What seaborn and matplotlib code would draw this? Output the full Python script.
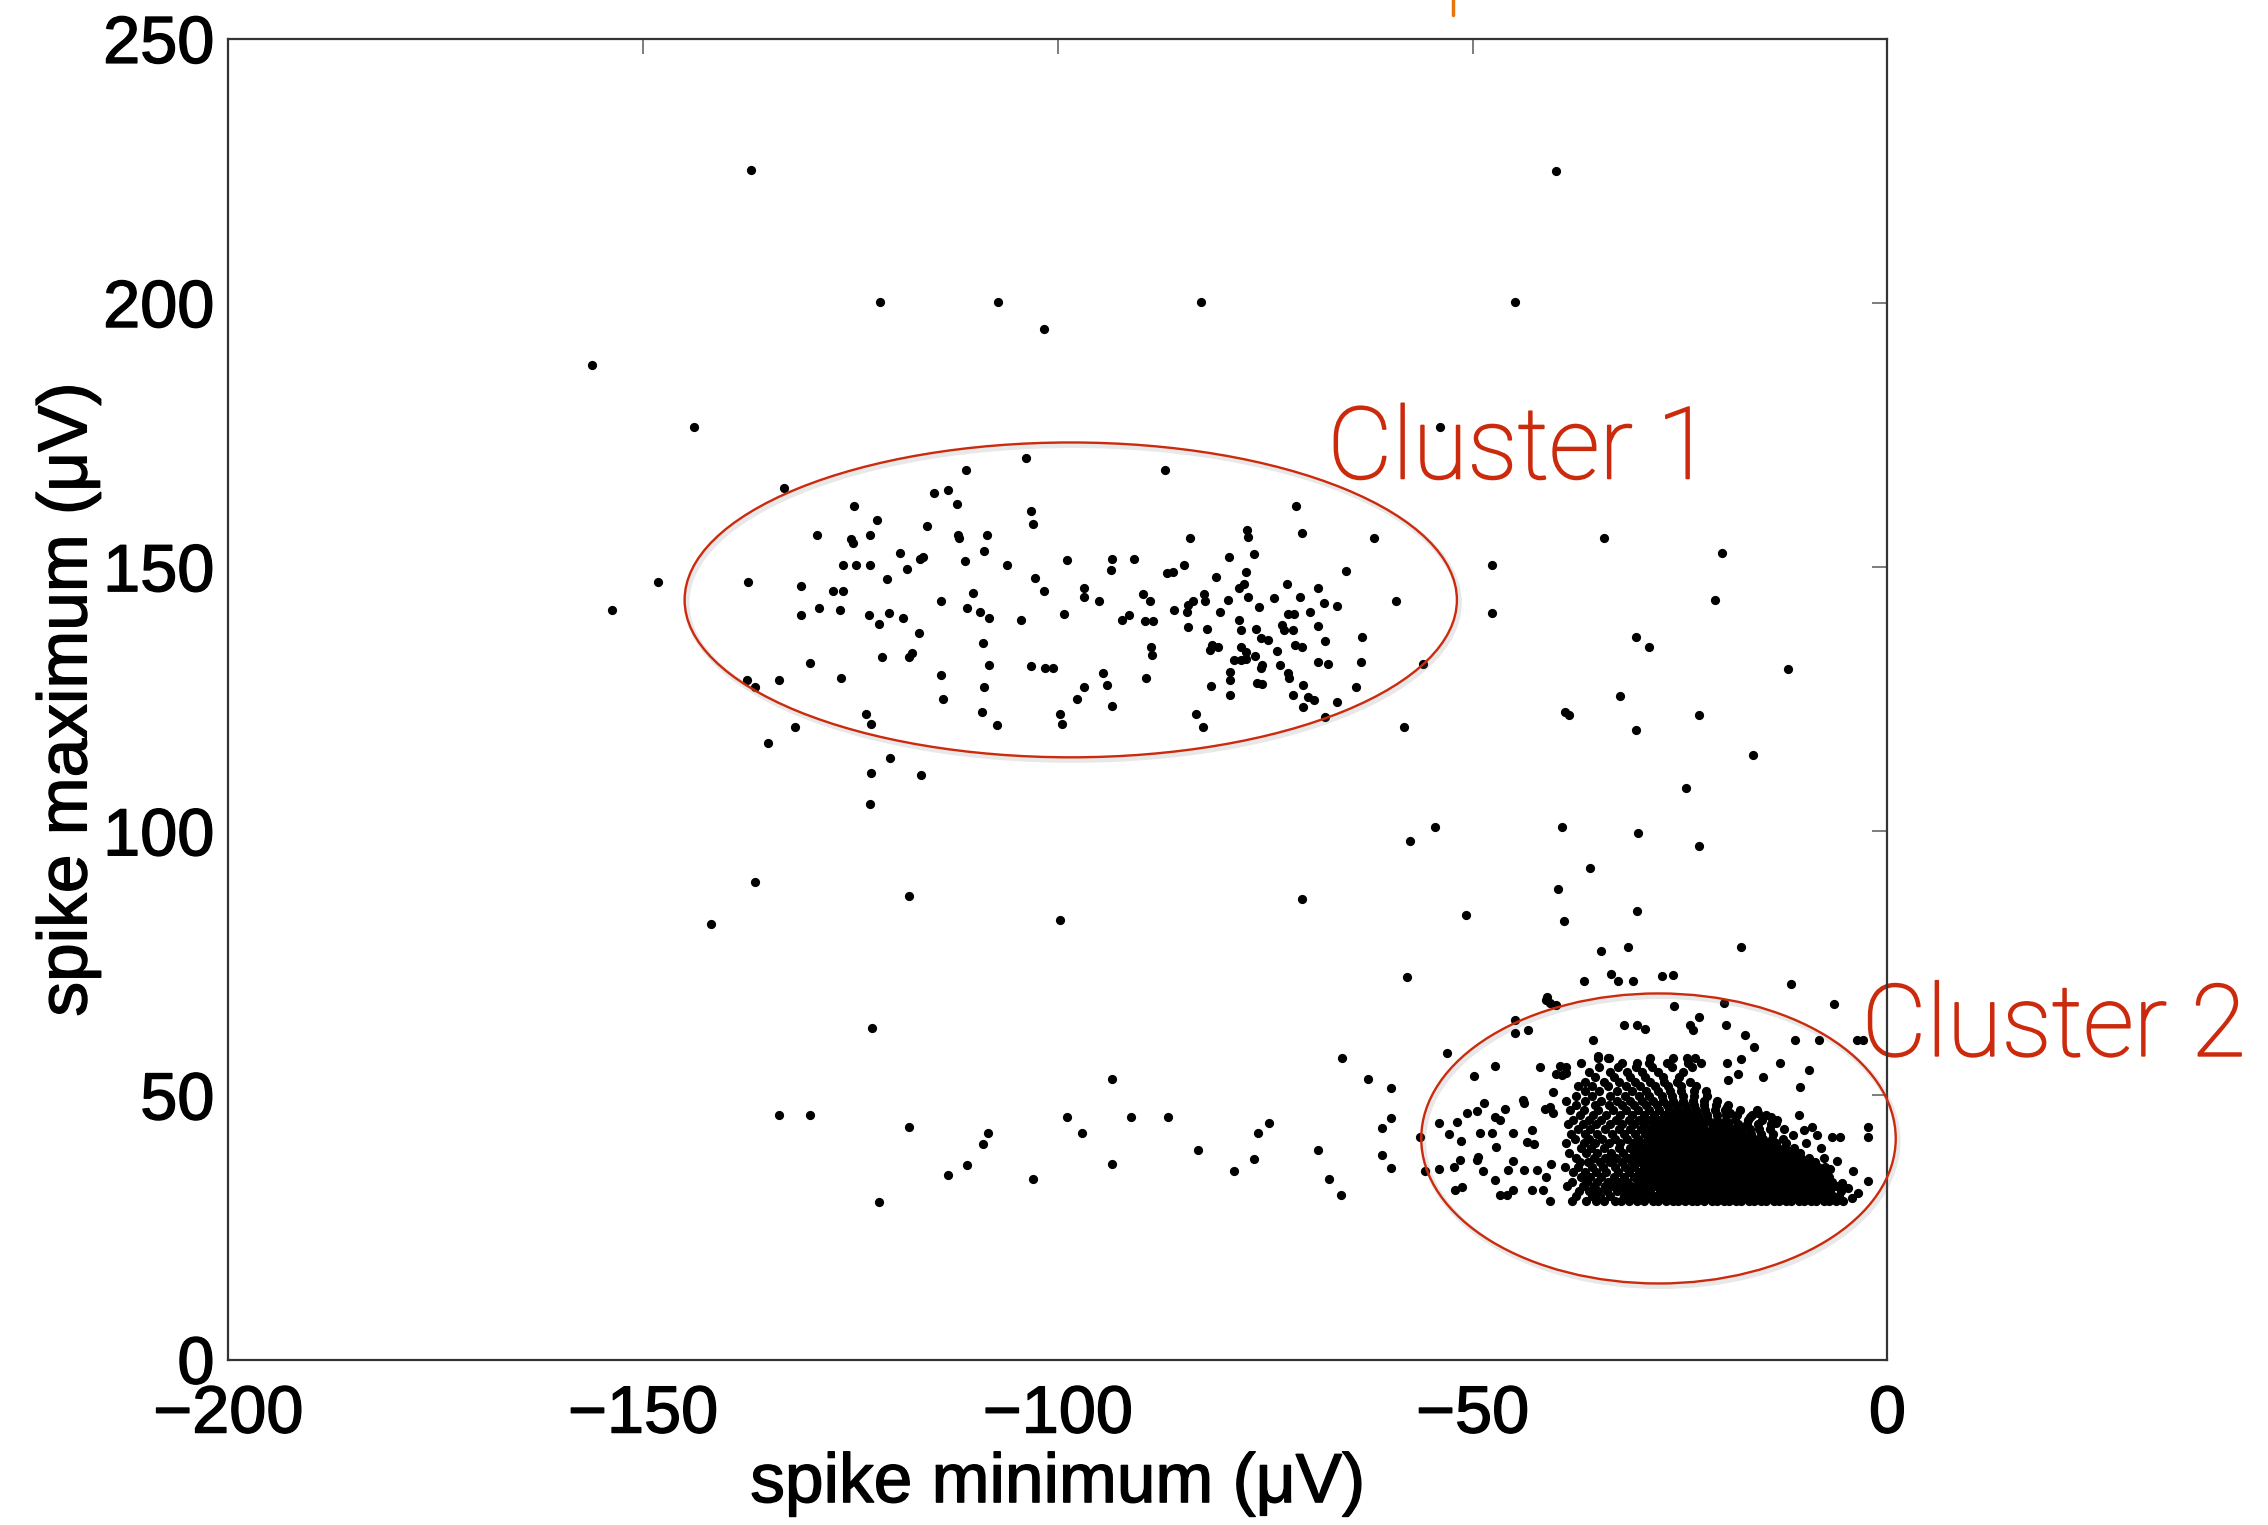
import matplotlib
matplotlib.use("Agg")
import matplotlib.pyplot as plt
import matplotlib.patheffects as pe
from matplotlib.patches import Ellipse
from matplotlib.lines import Line2D
import pandas as pd
import seaborn as sns

# ---------------- data (spike minimum, spike maximum) in microvolts ----------------
outlier_pts = [(-137.0, 225.1), (-40.0, 225.0), (-156.2, 188.3), (-121.5, 200.2), (-107.2, 200.2),
               (-101.7, 195.0), (-82.7, 200.2), (-44.9, 200.2), (-53.9, 176.5), (-153.7, 141.9),
               (-122.6, 105.2), (-136.5, 90.4), (-118.0, 87.7), (-141.8, 82.4), (-99.7, 83.2),
               (-70.6, 87.1)]

cluster1_pts = [(-143.9, 176.6), (-103.8, 170.7), (-111.1, 168.4), (-87.1, 168.4), (-133.0, 164.9),
                (-114.9, 164.0), (-113.3, 164.6), (-112.2, 161.9), (-124.6, 161.5), (-103.3, 160.7),
                (-71.3, 161.6), (-121.8, 159.0), (-103.0, 158.2), (-115.8, 157.8), (-129.0, 156.0),
                (-124.9, 155.3), (-124.7, 154.5), (-122.6, 156.1), (-112.1, 156.1), (-111.9, 155.5),
                (-108.5, 156.1), (-70.6, 156.4), (-61.9, 155.6), (-84.1, 155.6), (-77.2, 157.0),
                (-77.1, 155.8), (-108.9, 153.1), (-119.0, 152.6), (-116.3, 152.0), (-116.6, 151.6),
                (-76.4, 152.5), (-79.4, 151.9), (-111.2, 151.2), (-106.1, 150.5), (-98.9, 151.4),
                (-93.5, 151.5), (-93.6, 149.5), (-90.8, 151.6), (-84.8, 150.5), (-86.1, 149.1),
                (-86.8, 148.8), (-125.9, 150.4), (-124.4, 150.5), (-122.6, 150.4), (-118.2, 149.6),
                (-65.3, 149.3), (-77.3, 149.0), (-81.0, 148.2), (-120.6, 147.7), (-102.8, 148.0),
                (-148.2, 147.1), (-137.3, 147.1), (-131.0, 146.4), (-72.4, 146.9), (-77.6, 146.9),
                (-78.2, 146.0), (-68.6, 146.0), (-127.1, 145.4), (-125.9, 145.4), (-110.2, 145.2),
                (-101.7, 145.4), (-96.9, 146.0), (-96.9, 144.4), (-89.7, 145.0), (-82.4, 145.0),
                (-82.3, 143.5), (-83.7, 143.5), (-84.3, 142.8), (-79.5, 143.8), (-77.1, 144.4),
                (-73.9, 144.1), (-70.8, 144.4), (-67.9, 143.2), (-66.4, 142.6), (-95.0, 143.5),
                (-88.9, 143.5), (-114.1, 143.5), (-59.2, 143.5), (-128.8, 142.2), (-126.3, 141.9),
                (-131.0, 140.9), (-111.0, 142.2), (-109.4, 141.6), (-108.3, 140.3), (-122.8, 140.9),
                (-120.4, 141.4), (-118.7, 140.3), (-121.6, 139.2), (-104.5, 140.0), (-99.3, 141.2),
                (-92.3, 140.0), (-91.4, 140.9), (-89.5, 139.9), (-88.5, 139.9), (-86.0, 141.9),
                (-84.4, 141.6), (-80.4, 141.6), (-75.8, 142.4), (-72.3, 141.2), (-71.5, 141.2),
                (-69.6, 141.6), (-78.2, 140.0), (-77.9, 138.1), (-84.3, 138.7), (-82.0, 138.2),
                (-76.1, 138.2), (-73.0, 139.0), (-72.8, 138.1), (-71.6, 138.1), (-68.6, 138.9),
                (-116.8, 137.6), (-75.5, 136.5), (-74.7, 136.2), (-73.6, 134.2), (-67.8, 136.1),
                (-63.4, 136.7), (-109.0, 135.6), (-81.4, 135.3), (-80.7, 134.9), (-81.7, 134.3),
                (-77.9, 134.9), (-77.3, 134.0), (-71.4, 135.3), (-70.6, 134.9), (-88.8, 134.9),
                (-88.6, 133.4), (-117.6, 133.7), (-117.9, 132.9), (-121.2, 132.9), (-129.9, 131.8),
                (-108.3, 131.5), (-103.2, 131.2), (-101.5, 130.9), (-100.6, 130.9), (-78.8, 132.4),
                (-77.9, 132.5), (-77.3, 132.7), (-76.3, 133.1), (-75.4, 131.5), (-75.5, 130.9),
                (-73.2, 131.5), (-68.6, 132.1), (-67.4, 131.6), (-63.5, 132.1), (-56.0, 131.6),
                (-114.1, 129.6), (-94.6, 130.0), (-89.4, 129.1), (-79.3, 130.2), (-79.2, 128.6),
                (-72.3, 129.9), (-72.2, 129.0), (-126.1, 129.0), (-133.6, 128.6), (-137.5, 128.6),
                (-136.5, 127.4), (-81.5, 127.5), (-76.0, 128.0), (-75.4, 127.9), (-70.4, 127.7),
                (-64.1, 127.4), (-108.9, 127.4), (-96.8, 127.3), (-94.1, 127.7), (-79.3, 125.8),
                (-71.7, 125.8), (-69.8, 125.5), (-69.1, 124.9), (-113.9, 125.0), (-97.7, 125.0),
                (-66.4, 124.5), (-70.4, 123.6), (-93.5, 123.7), (-109.1, 122.6), (-123.1, 122.2),
                (-122.5, 120.4), (-99.8, 122.2), (-99.5, 120.3), (-107.3, 120.1), (-83.4, 122.2),
                (-82.5, 119.7), (-67.8, 121.7), (-131.7, 119.7), (-58.3, 119.7), (-135.0, 116.8),
                (-120.3, 113.8), (-122.5, 111.1), (-116.5, 110.7)]

middle_pts = [(-47.7, 150.5), (-47.7, 141.3), (-34.2, 155.6), (-19.9, 152.6), (-20.8, 143.8),
              (-30.3, 136.7), (-28.8, 134.8), (-12.0, 130.8), (-32.2, 125.7), (-38.9, 122.5),
              (-38.4, 122.0), (-22.7, 122.0), (-30.3, 119.2), (-16.2, 114.5), (-24.3, 108.1),
              (-54.5, 100.8), (-57.5, 98.2), (-39.2, 100.8), (-30.1, 99.6), (-22.7, 97.2),
              (-35.9, 93.1), (-39.7, 89.0), (-50.8, 84.2), (-39.0, 83.1), (-30.2, 84.9),
              (-34.5, 77.3), (-31.3, 78.0), (-17.6, 78.0), (-57.9, 72.5), (-36.6, 71.7),
              (-33.3, 73.0), (-32.5, 71.7), (-30.7, 71.7), (-27.2, 72.6), (-25.8, 72.8),
              (-11.6, 71.0), (-41.0, 68.7)]

low_left_pts = [(-122.4, 62.8), (-133.6, 46.3), (-129.9, 46.3), (-118.0, 44.0), (-121.6, 29.9),
                (-108.4, 42.9), (-109.0, 40.8), (-110.9, 36.8), (-113.2, 35.0), (-103.0, 34.1),
                (-98.9, 46.0), (-97.1, 42.9), (-93.5, 53.1), (-93.5, 37.0), (-91.2, 46.0),
                (-86.7, 46.0), (-83.1, 39.7), (-78.8, 35.7), (-76.4, 38.0), (-75.9, 42.9),
                (-74.5, 44.7), (-68.6, 39.7), (-67.3, 34.1), (-65.9, 31.1), (-65.8, 57.1),
                (-62.6, 53.1), (-59.9, 51.4), (-59.9, 45.8), (-60.9, 43.8), (-60.9, 38.8),
                (-59.9, 36.3)]

cluster2_sparse_pts = [(-41.1, 68.1), (-40.7, 67.4), (-39.9, 67.1), (-44.9, 64.3), (-44.9, 61.8),
                       (-43.3, 62.4), (-53.1, 58.1), (-47.3, 55.5), (-49.8, 53.7), (-41.9, 55.3),
                       (-39.5, 55.6), (-38.8, 54.2), (-39.9, 54.0), (-39.2, 53.8), (-43.9, 49.1),
                       (-43.8, 48.5), (-46.1, 47.4), (-48.6, 48.6), (-49.5, 47.1), (-50.7, 46.7),
                       (-47.3, 46.0), (-46.7, 45.4), (-54.1, 44.7), (-51.9, 45.0), (-56.4, 42.2),
                       (-52.8, 42.6), (-51.4, 41.4), (-49.1, 42.8), (-47.7, 42.8), (-47.2, 40.3),
                       (-45.1, 42.9), (-42.9, 43.5), (-43.5, 41.2), (-42.6, 40.8), (-55.8, 35.7),
                       (-54.1, 36.0), (-52.3, 36.5), (-51.5, 37.8), (-49.5, 37.8), (-49.3, 38.3),
                       (-48.7, 35.6), (-47.3, 34.0), (-45.7, 35.9), (-45.1, 37.5), (-43.8, 35.9),
                       (-52.1, 32.0), (-51.3, 32.7), (-46.7, 31.2), (-45.9, 31.2), (-45.1, 32.1),
                       (-42.9, 32.1), (-41.5, 32.1), (-40.7, 30.1), (-42.3, 35.9), (-41.1, 34.6),
                       (-40.6, 37.1), (-41.3, 47.4), (-40.7, 47.9), (-40.3, 46.6), (-40.3, 50.7),
                       (-25.7, 66.9), (-19.7, 67.4), (-31.7, 63.3), (-30.2, 63.3), (-29.2, 62.5),
                       (-22.7, 64.8), (-23.8, 63.4), (-23.4, 62.4), (-19.5, 63.4), (-17.2, 61.4),
                       (-16.1, 59.2), (-11.2, 60.5), (-8.3, 60.5), (-35.5, 60.4), (-34.9, 57.5),
                       (-33.6, 57.0), (-17.7, 56.8), (-19.3, 56.2), (-13.0, 56.2), (-9.5, 54.8),
                       (-18.0, 54.0), (-19.2, 53.0), (-15.0, 53.4), (-10.6, 51.5), (-10.7, 46.3),
                       (-2.3, 44.1), (-2.3, 42.1), (-6.7, 42.1), (-5.7, 42.1), (-6.1, 37.5),
                       (-4.1, 35.6), (-2.3, 33.8), (-4.3, 30.5), (-6.5, 67.3), (-3.7, 60.5),
                       (-2.9, 60.5), (-19.4, 47.9), (-19.0, 46.6), (-16.6, 46.0), (-15.6, 46.6),
                       (-14.0, 46.0), (-13.4, 44.7), (-11.4, 42.5), (-10.1, 43.5), (-9.1, 44.1),
                       (-8.5, 42.5), (-7.6, 38.2), (-6.9, 36.0), (-5.5, 33.5), (-4.8, 32.4),
                       (-3.6, 31.6), (-8.0, 40.0), (-9.8, 41.0)]

# dense core of cluster 2, read row by row (spike maximum level -> spike minimum values)
core_rows_y = [30.1, 31.0, 31.9, 32.8, 33.7, 34.6, 35.5, 36.4, 37.3, 38.2, 39.1, 40.0, 40.9,
               41.8, 42.7, 43.6, 44.5, 45.4, 46.3, 47.2, 48.1, 49.0, 49.9, 50.8, 51.7, 52.6,
               53.5, 54.4, 55.3, 56.2, 57.1]
core_rows_x = [
    [-38.0, -36.3, -35.1, -34.2, -32.9, -32.1, -31.2, -30.2, -29.3, -28.3, -27.6, -26.7, -25.8, -25.2, -24.4, -23.5, -22.9, -22.1, -21.2, -20.6, -19.7, -19.1, -18.2, -17.6, -16.7, -16.1, -15.2, -14.6, -13.7, -13.1, -12.2, -11.6, -10.7, -10.1, -9.2, -8.6, -7.7, -7.1, -6.2, -5.3],
    [-37.5, -35.6, -34.6, -33.5, -31.7, -30.8, -29.8, -28.9, -27.9, -27.1, -26.2, -25.4, -24.7, -23.9, -23.2, -22.4, -21.7, -20.9, -20.2, -19.4, -18.7, -17.9, -17.2, -16.4, -15.7, -14.9, -14.2, -13.4, -12.7, -11.9, -11.2, -10.4, -9.7, -8.9, -8.2, -7.4, -6.6, -5.8],
    [-37.2, -36.0, -34.9, -33.8, -32.6, -31.5, -30.4, -29.5, -28.6, -27.4, -26.5, -25.6, -24.9, -24.1, -23.3, -22.6, -21.9, -21.1, -20.4, -19.6, -18.9, -18.1, -17.4, -16.6, -15.9, -15.1, -14.4, -13.6, -12.9, -12.1, -11.4, -10.6, -9.9, -9.1, -8.4, -7.6, -6.9, -5.6],
    [-38.6, -36.7, -35.4, -34.1, -33.1, -31.9, -30.9, -29.9, -29.0, -28.1, -27.2, -26.3, -25.5, -24.6, -23.8, -23.1, -22.3, -21.6, -20.8, -20.1, -19.3, -18.6, -17.8, -17.1, -16.3, -15.6, -14.8, -14.1, -13.3, -12.6, -11.8, -11.1, -10.3, -9.6, -8.8, -8.1, -7.3, -6.2],
    [-38.0, -36.2, -35.0, -33.7, -32.4, -31.4, -30.1, -29.2, -28.4, -27.5, -26.7, -25.9, -25.1, -24.3, -23.6, -22.8, -22.1, -21.3, -20.6, -19.8, -19.1, -18.3, -17.6, -16.8, -16.1, -15.3, -14.6, -13.8, -13.1, -12.3, -11.6, -10.8, -10.1, -9.3, -8.6, -7.8, -6.7],
    [-37.0, -35.8, -34.5, -33.0, -31.8, -30.6, -29.6, -28.8, -27.9, -27.0, -26.1, -25.3, -24.5, -23.7, -22.9, -22.2, -21.4, -20.7, -19.9, -19.2, -18.4, -17.7, -16.9, -16.2, -15.4, -14.7, -13.9, -13.2, -12.4, -11.7, -10.9, -10.2, -9.4, -8.7, -7.9, -7.0],
    [-37.9, -36.4, -35.1, -33.9, -32.5, -31.1, -30.0, -29.0, -28.2, -27.3, -26.4, -25.6, -24.8, -24.0, -23.3, -22.5, -21.8, -21.0, -20.3, -19.5, -18.8, -18.0, -17.3, -16.5, -15.8, -15.0, -14.3, -13.5, -12.8, -12.0, -11.3, -10.5, -9.8, -9.0, -8.2, -7.3],
    [-38.9, -37.3, -35.6, -34.3, -32.8, -31.6, -30.5, -29.4, -28.5, -27.6, -26.8, -25.9, -25.1, -24.3, -23.5, -22.7, -22.0, -21.2, -20.5, -19.7, -19.0, -18.2, -17.5, -16.7, -16.0, -15.2, -14.5, -13.7, -13.0, -12.2, -11.5, -10.7, -10.0, -9.2, -8.4, -7.5],
    [-37.1, -36.1, -34.7, -33.4, -32.0, -30.8, -29.8, -28.9, -28.0, -27.1, -26.2, -25.4, -24.6, -23.8, -23.0, -22.3, -21.5, -20.8, -20.0, -19.3, -18.5, -17.8, -17.0, -16.3, -15.5, -14.8, -14.0, -13.3, -12.5, -11.8, -11.0, -10.3, -9.5, -8.7],
    [-37.6, -35.4, -34.0, -32.7, -31.3, -30.2, -29.1, -28.2, -27.3, -26.5, -25.7, -24.9, -24.1, -23.3, -22.5, -21.8, -21.0, -20.3, -19.5, -18.8, -18.0, -17.3, -16.5, -15.8, -15.0, -14.3, -13.5, -12.8, -12.0, -11.2, -10.4, -9.5],
    [-38.4, -36.3, -35.0, -33.3, -31.9, -30.6, -29.5, -28.6, -27.7, -26.9, -26.0, -25.2, -24.4, -23.6, -22.8, -22.1, -21.3, -20.6, -19.8, -19.1, -18.3, -17.6, -16.8, -16.1, -15.3, -14.6, -13.8, -13.1, -12.3, -11.5, -10.6],
    [-37.0, -35.7, -34.2, -32.4, -31.0, -29.9, -28.9, -27.9, -27.0, -26.1, -25.4, -24.6, -23.8, -23.0, -22.3, -21.5, -20.8, -20.0, -19.3, -18.5, -17.8, -17.0, -16.3, -15.5, -14.8, -14.0, -13.2, -12.3, -11.3],
    [-38.8, -36.6, -35.2, -33.6, -32.2, -30.7, -29.6, -28.4, -27.4, -26.5, -25.6, -24.8, -23.9, -23.1, -22.2, -21.4, -20.5, -19.7, -18.8, -18.0, -17.1, -16.2, -15.3, -14.4, -13.4, -12.2],
    [-37.7, -36.0, -34.4, -32.9, -31.4, -30.1, -28.9, -27.8, -26.8, -25.9, -25.1, -24.2, -23.4, -22.5, -21.7, -20.8, -19.9, -19.0, -18.1, -17.2, -16.1, -15.0, -13.9, -12.6],
    [-38.2, -36.4, -35.0, -33.2, -31.7, -30.4, -29.2, -28.1, -27.1, -26.2, -25.3, -24.5, -23.7, -22.8, -21.9, -21.0, -20.1, -19.2, -18.4, -17.4, -16.4, -15.2, -13.8],
    [-37.3, -35.8, -34.0, -32.3, -31.0, -29.7, -28.6, -27.5, -26.5, -25.6, -24.8, -23.9, -23.0, -22.1, -21.2, -20.3, -19.4, -18.5, -17.6, -16.6, -15.5, -14.2, -12.5],
    [-38.5, -36.7, -35.1, -33.5, -32.0, -30.6, -29.3, -28.0, -26.9, -25.9, -24.9, -24.0, -23.1, -22.2, -21.2, -20.2, -19.2, -18.0, -16.9, -15.6, -14.0],
    [-37.9, -36.0, -34.5, -32.7, -31.2, -29.9, -28.6, -27.5, -26.4, -25.4, -24.5, -23.5, -22.6, -21.6, -20.5, -19.5, -18.4, -16.8, -15.1, -13.3],
    [-37.1, -35.5, -33.9, -32.2, -30.8, -29.4, -28.1, -26.9, -25.8, -24.8, -23.8, -22.8, -21.8, -20.6, -19.5, -18.1, -16.3, -14.6],
    [-38.3, -36.6, -34.9, -33.1, -31.5, -30.1, -28.7, -27.5, -26.3, -25.2, -24.2, -23.1, -22.0, -20.8, -19.6, -17.8, -15.7],
    [-37.6, -35.3, -33.6, -32.0, -30.5, -29.1, -27.8, -26.6, -25.5, -24.4, -23.3, -22.1, -20.7, -19.2],
    [-38.7, -36.4, -34.5, -32.6, -31.0, -29.6, -28.3, -27.0, -25.8, -24.6, -23.4, -22.1, -20.6],
    [-37.5, -35.6, -33.4, -31.6, -30.0, -28.7, -27.2, -26.0, -24.7, -23.3, -21.8],
    [-36.5, -34.8, -32.6, -30.8, -29.1, -27.7, -26.2, -24.9, -23.3, -21.9],
    [-37.3, -35.6, -33.7, -31.5, -29.8, -28.0, -26.4, -24.9, -23.1],
    [-36.4, -34.2, -32.3, -30.4, -28.6, -26.9, -25.4, -23.8],
    [-35.2, -33.0, -31.0, -29.2, -27.1, -25.1],
    [-36.0, -33.5, -31.4, -29.6, -27.6, -24.6],
    [-38.8, -34.8, -32.5, -30.3, -28.4, -26.0, -23.6],
    [-36.9, -32.0, -30.2, -28.8, -26.6, -24.1, -22.5],
    [-34.9, -33.7, -28.6, -25.8, -24.2, -23.2],
]

x_ticks = [-200, -150, -100, -50, 0]
y_ticks = [0, 50, 100, 150, 200, 250]
annotations = ["Cluster 1", "Cluster 2"]
x_label = "spike minimum (\u03bcV)"
y_label = "spike maximum (\u03bcV)"

# ---------------- assemble table ----------------
pts = outlier_pts + cluster1_pts + middle_pts + low_left_pts + cluster2_sparse_pts
for yv, row in zip(core_rows_y, core_rows_x):
    pts = pts + [(xv, yv) for xv in row]
df = pd.DataFrame(pts, columns=["spike_min", "spike_max"])

# ---------------- figure ----------------
sns.set_theme(style="white")
plt.rcParams['font.family'] = ['Liberation Sans', 'DejaVu Sans']
plt.rcParams['axes.unicode_minus'] = True

fig = plt.figure(figsize=(22.68, 15.25), dpi=100)
ax = fig.add_axes([0.1007, 0.1085, 0.7315, 0.8660])

sns.scatterplot(data=df, x="spike_min", y="spike_max", ax=ax, color="black",
                s=44, linewidth=0, legend=False, zorder=2)

ax.set_xlim(-200, 0)
ax.set_ylim(0, 250)
ax.set_xticks(x_ticks)
ax.set_yticks(y_ticks)
ax.set_xticklabels([f"{v}".replace("-", "\u2212") for v in x_ticks])
ax.set_yticklabels([str(v) for v in y_ticks])
ax.tick_params(axis="both", direction="in", length=11, width=1.2, color="#666666",
               top=True, right=True, labelsize=48, labelcolor="black")
ax.tick_params(axis="x", pad=18)
ax.tick_params(axis="y", pad=10)

heavy = [pe.withStroke(linewidth=1.0, foreground="black")]
for lab in ax.get_xticklabels() + ax.get_yticklabels():
    lab.set_path_effects(heavy)

for sp in ax.spines.values():
    sp.set_color("#333333")
    sp.set_linewidth(1.6)
    sp.set_visible(True)
ax.set_xlabel(x_label, fontsize=50, labelpad=4, color="black", path_effects=heavy)
ax.set_ylabel(y_label, fontsize=50, labelpad=2, color="black", path_effects=heavy)
ax.grid(False)

red = "#cc2a0c"
shadow = [pe.SimpleLineShadow(offset=(1.5, -2), shadow_color="0.5", alpha=0.18, linewidth=4),
          pe.Normal()]
e1 = Ellipse((-98.45, 143.8), 93.1, 59.6, fill=False, edgecolor=red, linewidth=1.7,
             clip_on=False, zorder=3)
e2 = Ellipse((-27.6, 41.85), 57.2, 54.9, fill=False, edgecolor=red, linewidth=1.7,
             clip_on=False, zorder=3)
for e in (e1, e2):
    e.set_path_effects(shadow)
    ax.add_patch(e)

red_text = [pe.withStroke(linewidth=1.3, foreground=red)]
ax.text(-67.5, 166.8, annotations[0], color=red, fontsize=72, family=["Roboto", "DejaVu Sans"],
        fontweight="light", ha="left", va="baseline", clip_on=False, zorder=2,
        path_effects=red_text)
ax.text(-3.1, 57.5, annotations[1], color=red, fontsize=72, family=["Roboto", "DejaVu Sans"],
        fontweight="light", ha="left", va="baseline", clip_on=False, zorder=2,
        path_effects=red_text)

# small orange mark cut by the top edge of the picture
fig.add_artist(Line2D([1453 / 2268, 1453 / 2268], [1.0, 1 - 15 / 1525],
                      transform=fig.transFigure, color="#e8760c", linewidth=2.5))

fig.savefig("out.png", dpi=100)
